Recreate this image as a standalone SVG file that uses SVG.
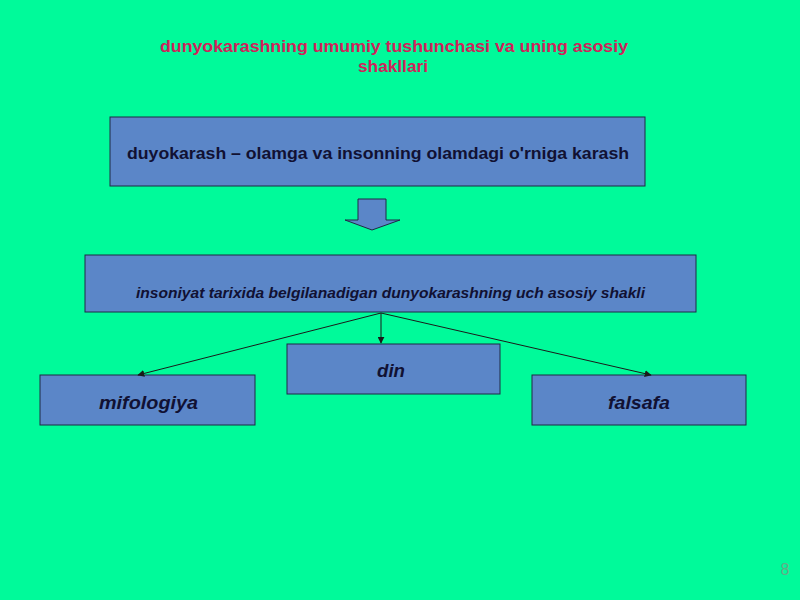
<svg xmlns="http://www.w3.org/2000/svg" width="800" height="600" viewBox="0 0 800 600">
<defs>
<style>
.box{fill:#5B86C8;stroke:#1E2A44;stroke-width:1}
.t{font-family:"Liberation Sans",Arial,sans-serif;font-weight:bold;fill:#111133;text-anchor:middle}
.ti{font-style:italic}
.title{font-family:"Liberation Sans",Arial,sans-serif;font-weight:bold;font-size:16px;fill:#D0225A;text-anchor:middle}
.con{stroke:#1a1a1a;stroke-width:1;fill:none;marker-end:url(#ah)}
</style>
<marker id="ah" viewBox="0 0 10 10" refX="9" refY="5" markerWidth="7" markerHeight="7" orient="auto" markerUnits="userSpaceOnUse">
<path d="M0,0 L10,5 L0,10 z" fill="#1a1a1a"/>
</marker>
</defs>
<rect x="0" y="0" width="800" height="600" fill="#00FA9A"/>
<g id="title">
<text class="title" x="394" y="52" textLength="468" lengthAdjust="spacingAndGlyphs">dunyokarashning umumiy tushunchasi va uning asosiy</text>
<text class="title" x="393" y="72" textLength="70" lengthAdjust="spacingAndGlyphs">shakllari</text>
</g>
<g id="node-def">
<rect class="box" x="110" y="117" width="535" height="69"/>
<text class="t" x="378" y="159" font-size="16" textLength="502" lengthAdjust="spacingAndGlyphs">duyokarash – olamga va insonning olamdagi o'rniga karash</text>
</g>
<g id="block-arrow">
<path d="M358,199 H386 V220 H400 L372,230 L345,220 H358 Z" fill="#5B86C8" stroke="#1E2A44" stroke-width="1"/>
</g>
<g id="node-forms">
<rect class="box" x="85" y="255" width="611" height="57"/>
<text class="t ti" x="390.5" y="298" font-size="14" textLength="509" lengthAdjust="spacingAndGlyphs">insoniyat tarixida belgilanadigan dunyokarashning uch asosiy shakli</text>
</g>
<g id="node-din">
<rect class="box" x="287" y="344" width="213" height="50"/>
<text class="t ti" x="391" y="377" font-size="19" textLength="28" lengthAdjust="spacingAndGlyphs">din</text>
</g>
<g id="node-mifologiya">
<rect class="box" x="40" y="375" width="215" height="50"/>
<text class="t ti" x="148.5" y="409" font-size="19" textLength="99" lengthAdjust="spacingAndGlyphs">mifologiya</text>
</g>
<g id="node-falsafa">
<rect class="box" x="532" y="375" width="214" height="50"/>
<text class="t ti" x="639" y="409" font-size="19" textLength="62" lengthAdjust="spacingAndGlyphs">falsafa</text>
</g>
<g id="connectors">
<line class="con" x1="381" y1="313" x2="138" y2="375"/>
<line class="con" x1="381" y1="313" x2="381" y2="343"/>
<line class="con" x1="381" y1="313" x2="651" y2="375"/>
</g>
<text x="785" y="575" font-family="Liberation Sans,Arial,sans-serif" font-size="16" fill="#66AA88" text-anchor="middle">8</text>
</svg>
